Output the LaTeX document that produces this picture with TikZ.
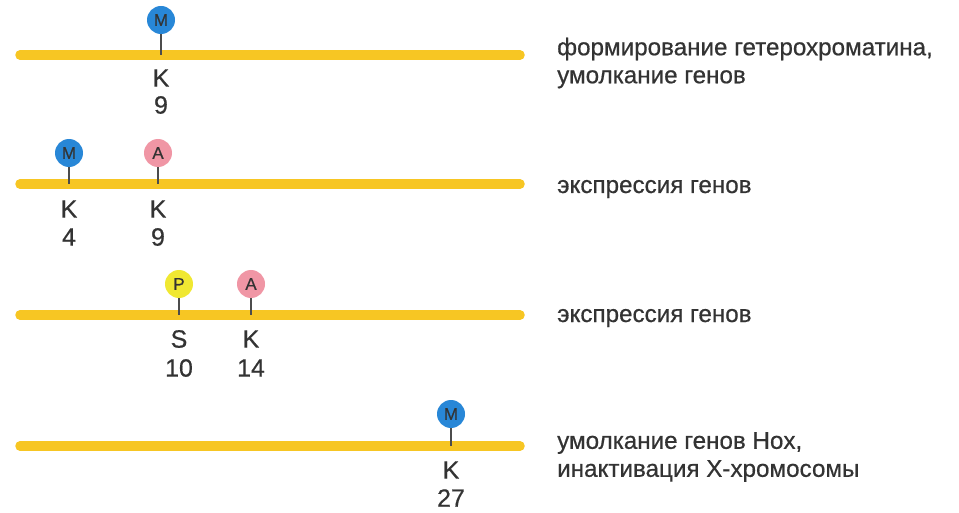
\documentclass[tikz,border=0pt]{standalone}
\usepackage{fontspec}
\setmainfont{Liberation Sans}
\newfontfamily\medfont[FakeBold=0.6]{Liberation Sans}
\begin{document}
\begin{tikzpicture}[x=1pt,y=-1pt,
  chrom/.style={line width=9.5pt, draw={rgb,255:red,247;green,198;blue,35}, line cap=round},
  modball/.style={circle, minimum size=28pt, inner sep=0pt, font=\medfont\fontsize{17}{17}\selectfont, text=black!80},
  methyl/.style={modball, fill={rgb,255:red,40;green,135;blue,215}},
  acetyl/.style={modball, fill={rgb,255:red,240;green,150;blue,165}},
  phos/.style={modball, fill={rgb,255:red,240;green,232;blue,50}},
  res/.style={font=\medfont\fontsize{25}{25}\selectfont, text=black!80, inner sep=0pt},
  desc/.style={font=\medfont\fontsize{24.2}{28}\selectfont, text=black!80, align=left, anchor=west, inner sep=0pt},
  tick/.style={draw=black!70, line width=1.2pt}]
\useasboundingbox (0,0) rectangle (959,513);
% row 1
\draw[chrom] (20,55) coordinate (l1a) -- (520,55) coordinate (l1b);
\node[methyl] (m1) at (161,20) {M};
\coordinate (t1) at (161,55);
\draw[tick] (m1.south) -- (t1);
\node[res] (k1) at (161,78) {K};
\node[res] (n1) at (161,105) {9};
\node[desc] (d1) at (557,63) {формирование гетерохроматина,\\умолкание генов};
% row 2
\draw[chrom] (20,184) coordinate (l2a) -- (520,184) coordinate (l2b);
\node[methyl] (m2) at (69,153) {M};
\node[acetyl] (a2) at (158,153) {A};
\coordinate (t2a) at (69,184);
\coordinate (t2b) at (158,184);
\draw[tick] (m2.south) -- (t2a);
\draw[tick] (a2.south) -- (t2b);
\node[res] (k2a) at (69,209) {K};
\node[res] (n2a) at (69,237) {4};
\node[res] (k2b) at (158,209) {K};
\node[res] (n2b) at (158,237) {9};
\node[desc] (d2) at (557,189) {экспрессия генов};
% row 3
\draw[chrom] (20,315) coordinate (l3a) -- (520,315) coordinate (l3b);
\node[phos] (p3) at (179,284) {P};
\node[acetyl] (a3) at (251,284) {A};
\coordinate (t3a) at (179,315);
\coordinate (t3b) at (251,315);
\draw[tick] (p3.south) -- (t3a);
\draw[tick] (a3.south) -- (t3b);
\node[res] (s3) at (179,339) {S};
\node[res] (n3a) at (179,368) {10};
\node[res] (k3) at (251,339) {K};
\node[res] (n3b) at (251,368) {14};
\node[desc] (d3) at (557,318) {экспрессия генов};
% row 4
\draw[chrom] (20,446) coordinate (l4a) -- (520,446) coordinate (l4b);
\node[methyl] (m4) at (451,414) {M};
\coordinate (t4) at (451,446);
\draw[tick] (m4.south) -- (t4);
\node[res] (k4) at (451,470) {K};
\node[res] (n4) at (451,498) {27};
\node[desc] (d4) at (557,457) {умолкание генов Hox,\\инактивация X-хромосомы};
\end{tikzpicture}
\end{document}
